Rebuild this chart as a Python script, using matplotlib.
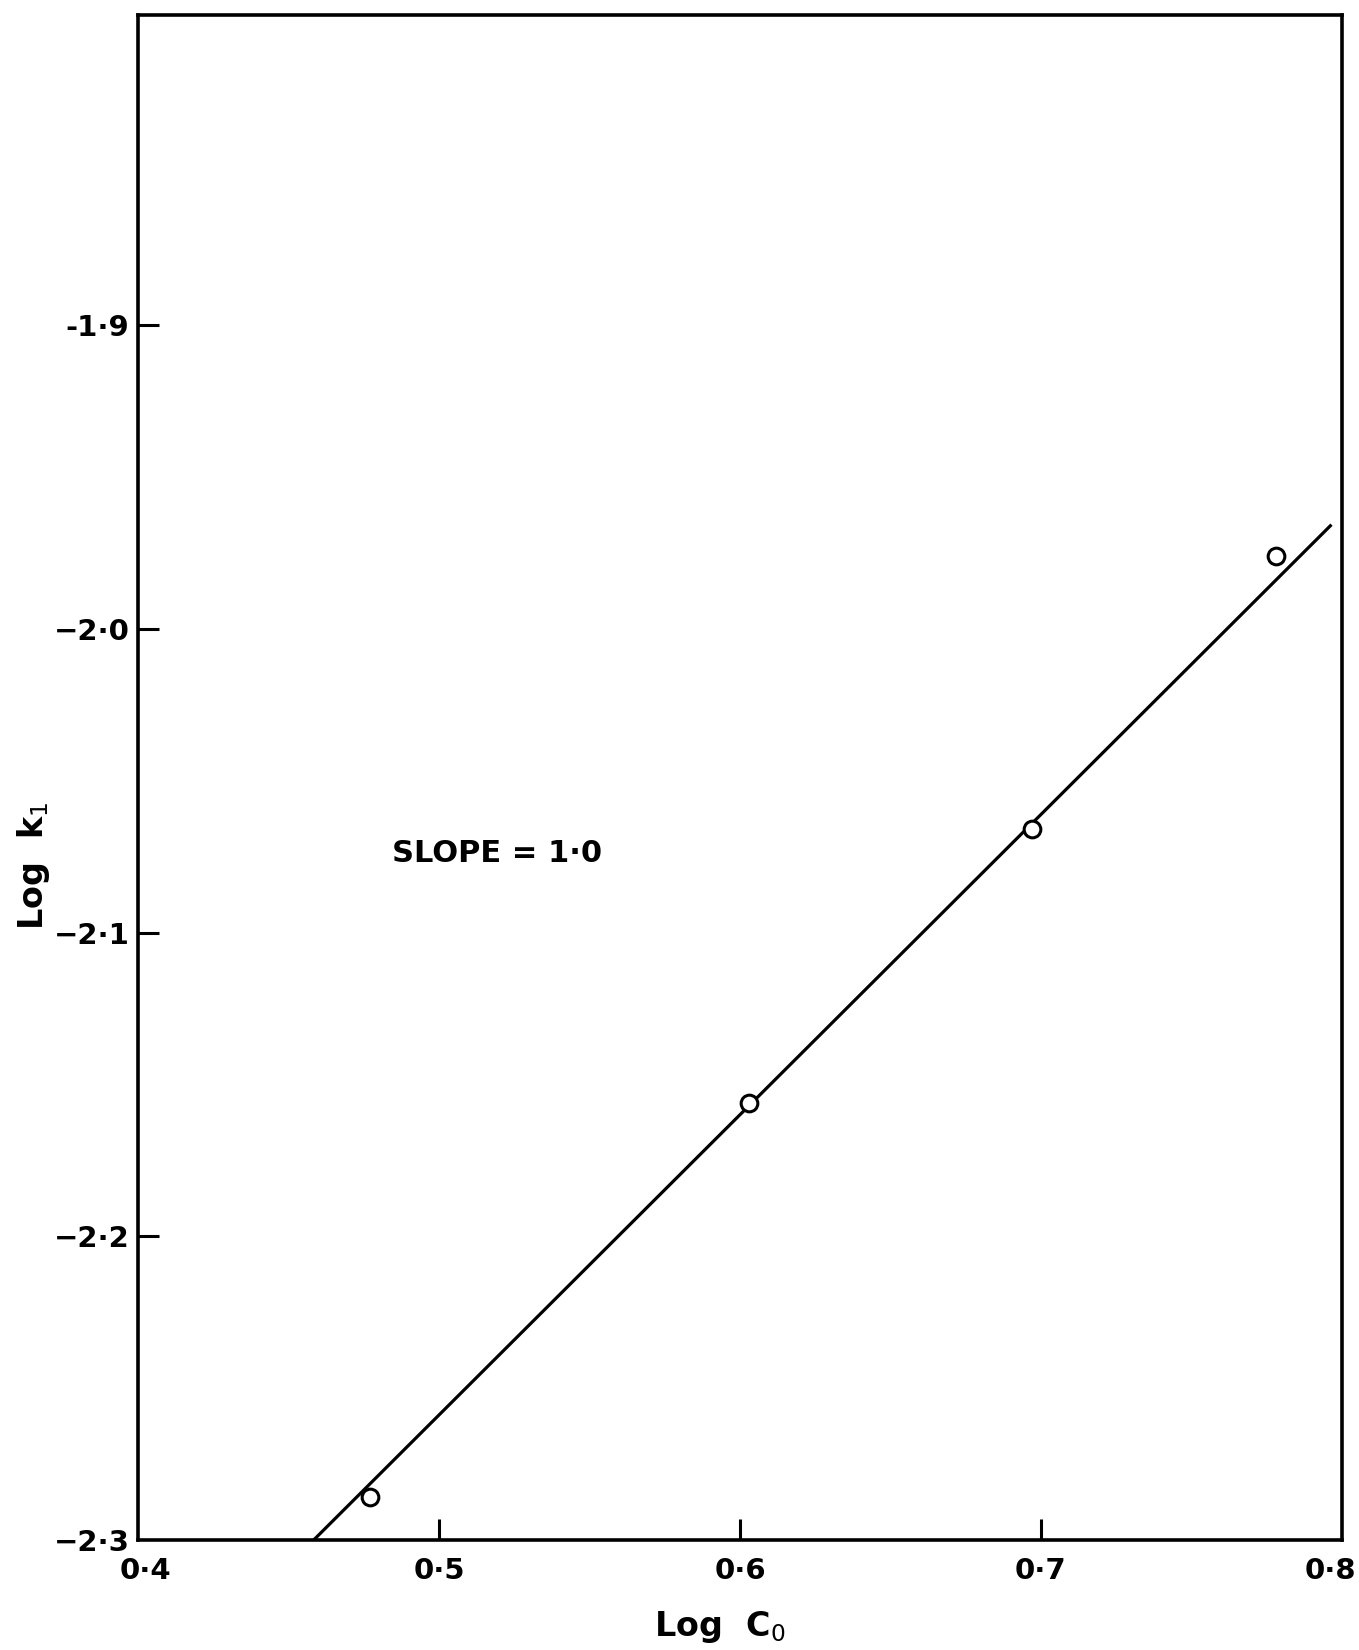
import numpy as np
import matplotlib.pyplot as plt
from matplotlib.transforms import ScaledTranslation

plt.rcParams['font.family'] = ['DejaVu Sans']

# measured points (log C0, log k1)
log_c0 = [0.477, 0.603, 0.697, 0.778]
log_k1 = [-2.286, -2.156, -2.066, -1.976]

# drawn straight line, slope ~ 1.0
fit_x = [0.4584, 0.7965]
fit_y = [-2.300, -1.9657]

xticks = [0.4, 0.5, 0.6, 0.7, 0.8]
xticklabels = ["0·4", "0·5", "0·6", "0·7", "0·8"]
yticks = [-1.9, -2.0, -2.1, -2.2, -2.3]
yticklabels = ["-1·9", "−2·0", "−2·1", "−2·2", "−2·3"]

fig = plt.figure(figsize=(13.59, 16.5), dpi=100)
ax = fig.add_axes([0.1015, 0.0667, 0.886, 0.924])

ax.plot(fit_x, fit_y, color="black", lw=2.3, solid_capstyle="butt")
ax.plot(log_c0, log_k1, "o", ms=12, mfc="white", mec="black", mew=2.2)

ax.set_xlim(0.4, 0.8)
ax.set_ylim(-2.3, -1.798)

ax.set_xticks(xticks)
ax.set_xticklabels(xticklabels, fontsize=21, fontweight="bold")
ax.set_yticks(yticks)
ax.set_yticklabels(yticklabels, fontsize=21, fontweight="bold")
ax.tick_params(direction="in", length=15, width=2.2)
ax.tick_params(axis="x", pad=12)
ax.tick_params(axis="y", pad=6)
for t in ax.xaxis.get_major_ticks()[::4]:
    t.tick1line.set_visible(False)
ax.yaxis.get_major_ticks()[-1].tick1line.set_visible(False)

# nudge the corner labels inwards like the original
lbls = ax.get_xticklabels()
lbls[0].set_transform(lbls[0].get_transform() + ScaledTranslation(0.07, 0, fig.dpi_scale_trans))
lbls[-1].set_transform(lbls[-1].get_transform() + ScaledTranslation(-0.12, 0, fig.dpi_scale_trans))

for s in ax.spines.values():
    s.set_linewidth(2.6)

ax.set_xlabel("Log  C$_0$", fontsize=24, fontweight="bold")
ax.xaxis.set_label_coords(0.483, -0.045)
ax.set_ylabel("Log  k$_1$", fontsize=24, fontweight="bold")
ax.yaxis.set_label_coords(-0.071, 0.442)

ax.text(0.4843, -2.074, "SLOPE = 1·0", fontsize=22, fontweight="bold",
        ha="left", va="center")

fig.savefig("out.png", dpi=100)
